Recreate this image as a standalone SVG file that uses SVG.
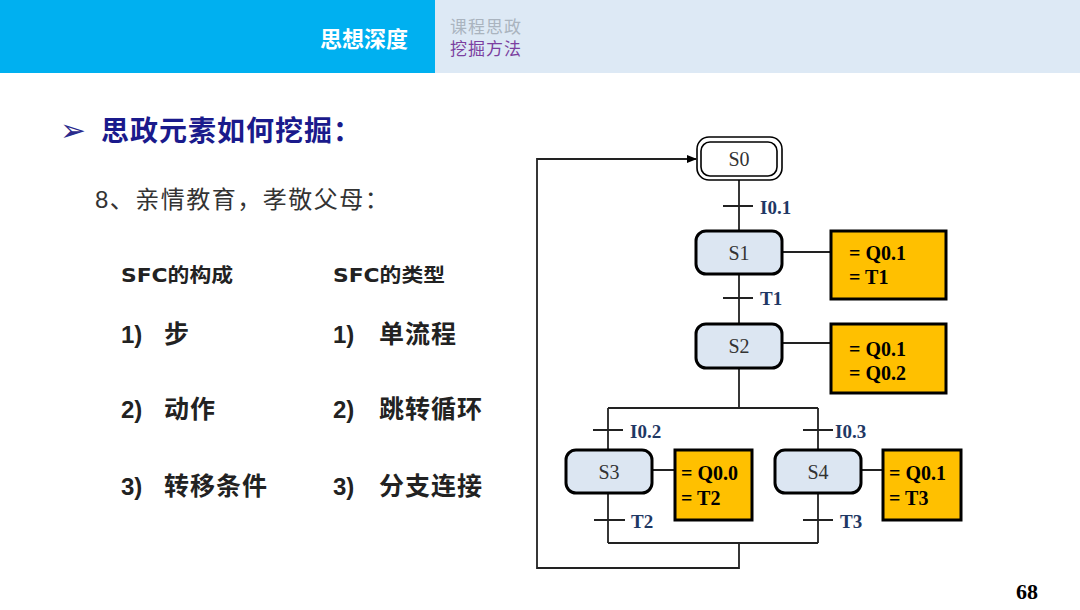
<svg xmlns="http://www.w3.org/2000/svg" width="1080" height="610" viewBox="0 0 1080 610">
<defs>
<marker id="arr" markerWidth="10" markerHeight="8" refX="9" refY="4" orient="auto" markerUnits="userSpaceOnUse">
<path d="M0,0 L10,4 L0,8 Z" fill="#000"/>
</marker>
<style>
.cjk{font-family:"Liberation Sans","Noto Sans CJK SC",sans-serif}
.step{fill:#dce6f2;stroke:#000;stroke-width:3}
.act{fill:#ffc000;stroke:#000;stroke-width:3}
.ln{stroke:#222;stroke-width:1.8;fill:none}
.st{font-family:"Liberation Serif",serif;font-size:20px;fill:#333;text-anchor:middle}
.tr{font-family:"Liberation Serif",serif;font-size:19px;font-weight:bold;fill:#1f3864}
.at{font-family:"Liberation Serif",serif;font-size:20px;font-weight:bold;fill:#000}
.num{font-family:"Liberation Sans",sans-serif;font-size:24px;font-weight:bold;fill:#222}
.it{font-family:"Noto Sans CJK SC",sans-serif;font-size:25px;font-weight:bold;fill:#222;letter-spacing:1px}
.sfc{font-family:"DejaVu Sans","Noto Sans CJK SC",sans-serif;font-size:19px;font-weight:bold;fill:#222}
</style>
</defs>
<rect width="1080" height="610" fill="#fff"/>
<g id="header">
<rect x="0" y="0" width="435" height="73" fill="#00b0f0"/>
<rect x="435" y="0" width="645" height="73" fill="#dde9f5"/>
<text x="408" y="47" class="cjk" font-size="22" font-weight="bold" fill="#fff" text-anchor="end">思想深度</text>
<text x="450" y="33" class="cjk" font-size="17" fill="#aab4bf" letter-spacing="1">课程思政</text>
<text x="450" y="55" class="cjk" font-size="17" fill="#7b3fa0" letter-spacing="1">挖掘方法</text>
</g>
<g id="title">
<text x="60" y="141" font-family="DejaVu Sans,sans-serif" font-size="31" fill="#2a2a8c">➢</text>
<text x="101" y="141" class="cjk" font-size="28" font-weight="bold" fill="#1a1a8c" letter-spacing="1">思政元素如何挖掘：</text>
<text x="95" y="208" class="cjk" font-size="24" fill="#333" letter-spacing="1.5">8、亲情教育，孝敬父母：</text>
</g>
<g id="list">
<text x="121" y="282" class="sfc" textLength="112" lengthAdjust="spacingAndGlyphs">SFC的构成</text>
<text x="333" y="282" class="sfc" textLength="112" lengthAdjust="spacingAndGlyphs">SFC的类型</text>
<text x="121" y="343" class="num">1)</text>
<text x="121" y="418" class="num">2)</text>
<text x="121" y="495" class="num">3)</text>
<text x="333" y="343" class="num">1)</text>
<text x="333" y="418" class="num">2)</text>
<text x="333" y="495" class="num">3)</text>
<text x="164" y="343" class="it">步</text>
<text x="164" y="418" class="it">动作</text>
<text x="164" y="495" class="it">转移条件</text>
<text x="379" y="343" class="it">单流程</text>
<text x="379" y="418" class="it">跳转循环</text>
<text x="379" y="495" class="it">分支连接</text>
</g>
<g id="connectors">
<path class="ln" d="M739,180 V230 M739,274 V323 M739,368 V408 M608,408 H818 M608,408 V449 M818,408 V449 M608,493 V543 M818,493 V543 M608,543 H818 M739,543 V568 H537 V159 H696" marker-end="url(#arr)"/>
<path class="ln" d="M723,206 H753 M723,298 H753 M593,430 H623 M803,430 H833 M594,520 H625 M803,520 H833"/>
<path class="ln" d="M783,252 H830 M782,343 H830 M653,470 H674 M861,470 H883"/>
</g>
<g id="s0">
<rect x="697" y="137" width="85" height="43" rx="12" fill="#fff" stroke="#000" stroke-width="1.6"/>
<rect x="701" y="142" width="76" height="34" rx="9" fill="#fff" stroke="#000" stroke-width="1.6"/>
<text x="739" y="166" class="st">S0</text>
</g>
<g id="t01"><text x="760" y="214" class="tr">I0.1</text></g>
<g id="s1">
<rect x="696" y="231" width="86" height="43" rx="10" class="step"/>
<text x="739" y="260" class="st">S1</text>
</g>
<g id="a1">
<rect x="831" y="231" width="115" height="68" class="act"/>
<text x="849" y="260" class="at">= Q0.1</text>
<text x="849" y="284" class="at">= T1</text>
</g>
<g id="tt1"><text x="760" y="305" class="tr">T1</text></g>
<g id="s2">
<rect x="696" y="324" width="86" height="44" rx="10" class="step"/>
<text x="739" y="353" class="st">S2</text>
</g>
<g id="a2">
<rect x="831" y="324" width="115" height="69" class="act"/>
<text x="849" y="356" class="at">= Q0.1</text>
<text x="849" y="380" class="at">= Q0.2</text>
</g>
<g id="t02"><text x="630" y="438" class="tr">I0.2</text></g>
<g id="t03"><text x="835" y="438" class="tr">I0.3</text></g>
<g id="s3">
<rect x="566" y="450" width="86" height="43" rx="10" class="step"/>
<text x="609" y="479" class="st">S3</text>
</g>
<g id="a3">
<rect x="675" y="450" width="77" height="70" class="act"/>
<text x="681" y="480" class="at">= Q0.0</text>
<text x="681" y="505" class="at">= T2</text>
</g>
<g id="s4">
<rect x="775" y="450" width="86" height="43" rx="10" class="step"/>
<text x="818" y="479" class="st">S4</text>
</g>
<g id="a4">
<rect x="883" y="450" width="78" height="70" class="act"/>
<text x="889" y="480" class="at">= Q0.1</text>
<text x="889" y="505" class="at">= T3</text>
</g>
<g id="tt2"><text x="631" y="528" class="tr">T2</text></g>
<g id="tt3"><text x="840" y="528" class="tr">T3</text></g>
<g id="page"><text x="1027" y="599" font-family="Liberation Serif,serif" font-size="22" font-weight="bold" fill="#000" text-anchor="middle">68</text></g>
</svg>
